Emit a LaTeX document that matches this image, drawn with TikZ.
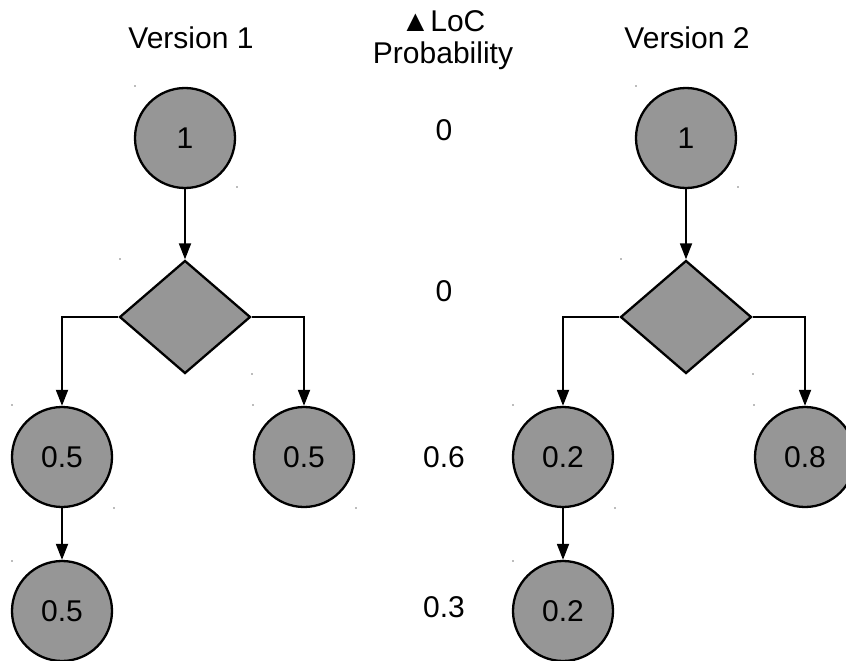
\documentclass[tikz,border=0pt]{standalone}
\usepackage{fontspec}
\setmainfont{Liberation Sans}
\usetikzlibrary{shapes.geometric,arrows.meta}
\definecolor{nodefill}{RGB}{150,150,150}
\definecolor{dotgray}{RGB}{120,120,120}
\tikzset{
  txt/.style={font=\fontsize{30}{32}\selectfont, inner sep=0pt, align=center},
  prob/.style={circle, draw=black, line width=2.3pt, fill=nodefill,
               minimum size=100pt, inner sep=0pt, font=\fontsize{30}{32}\selectfont},
  choice/.style={diamond, draw=black, line width=2.3pt, fill=nodefill,
                 minimum width=131pt, minimum height=113pt, inner sep=0pt},
  link/.style={draw=black, line width=1.8pt, -{Triangle[length=16pt,width=12pt]}},
  tick/.style={fill=dotgray, draw=none}
}
\newcommand{\tickdot}[1]{\fill[tick] #1 circle (0.9pt);}
\begin{document}
\begin{tikzpicture}[x=1pt,y=-1pt]
  \useasboundingbox (0,0) rectangle (846,661);
  \fill[white] (0,0) rectangle (846,661);

  % column headings
  \node[txt] (h1) at (191,38) {Version 1};
  \node[txt] (h2) at (687,38) {Version 2};
  \node[txt] (hc) at (443,40) {▲LoC\\Probability};

  % probability per level
  \node[txt] (p0) at (444,130) {0};
  \node[txt] (p1) at (444,291) {0};
  \node[txt] (p2) at (444,457) {0.6};
  \node[txt] (p3) at (444,607) {0.3};

  % version 1 tree
  \node[prob] (a1) at (185,138) {1};
  \node[choice] (ad) at (185,317) {};
  \node[prob] (al) at (62,457) {0.5};
  \node[prob] (ar) at (304,457) {0.5};
  \node[prob] (ab) at (62,611) {0.5};
  \draw[link] (a1.south) -- (ad.north);
  \draw[link] (ad.west) -| (al.north);
  \draw[link] (ad.east) -| (ar.north);
  \draw[link] (al.south) -- (ab.north);

  % version 2 tree
  \node[prob] (b1) at (686,138) {1};
  \node[choice] (bd) at (686,317) {};
  \node[prob] (bl) at (563,457) {0.2};
  \node[prob] (br) at (805,457) {0.8};
  \node[prob] (bb) at (563,611) {0.2};
  \draw[link] (b1.south) -- (bd.north);
  \draw[link] (bd.west) -| (bl.north);
  \draw[link] (bd.east) -| (br.north);
  \draw[link] (bl.south) -- (bb.north);

  % small corner marks
  \tickdot{(135,86)} \tickdot{(237,187)}
  \tickdot{(120,259)} \tickdot{(252,374)}
  \tickdot{(12,405)} \tickdot{(114,508)}
  \tickdot{(253,405)} \tickdot{(356,508)}
  \tickdot{(12,561)}
  \tickdot{(636,86)} \tickdot{(738,187)}
  \tickdot{(621,259)} \tickdot{(753,374)}
  \tickdot{(513,405)} \tickdot{(615,508)}
  \tickdot{(754,405)}
  \tickdot{(513,561)}
\end{tikzpicture}
\end{document}
